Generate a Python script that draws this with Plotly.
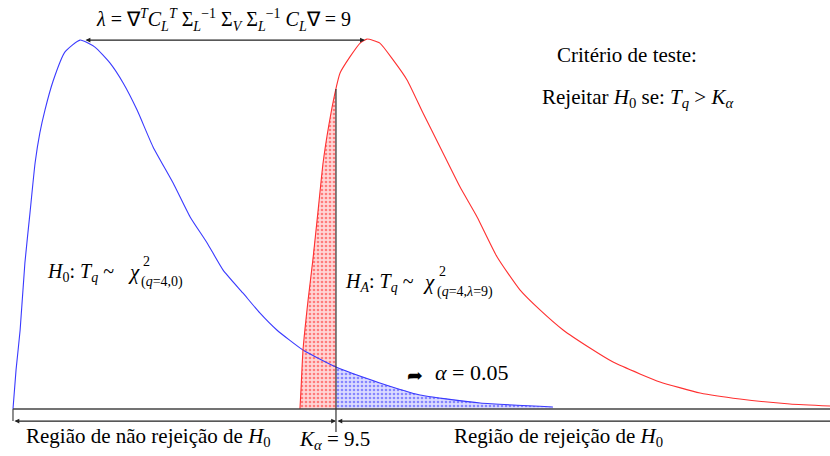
import numpy as np
import plotly.graph_objects as go

# ---- data (T_q on x, density in arbitrary units on y) ----
blue_T = [0.00, 0.09, 0.21, 0.35, 0.50, 0.65, 0.79, 0.94, 1.18, 1.53, 1.97, 2.41, 2.85,
          3.24, 3.65, 4.12, 4.71, 5.21, 5.71, 6.18, 6.76, 7.26, 7.76, 8.53, 9.50,
          10.79, 11.97, 13.74, 15.88]
blue_d = [0.0000, 0.0195, 0.0394, 0.0728, 0.0978, 0.1227, 0.1377, 0.1491, 0.1636, 0.1781,
          0.1840, 0.1805, 0.1726, 0.1626, 0.1491, 0.1307, 0.1127, 0.0958, 0.0828, 0.0693,
          0.0579, 0.0479, 0.0394, 0.0294, 0.0209, 0.0130, 0.0070, 0.0030, 0.0010]

red_T = [8.44, 8.47, 8.53, 8.68, 8.82, 8.97, 9.12, 9.29, 9.47, 9.62, 9.91, 10.21, 10.41,
         10.79, 11.18, 11.59, 12.06, 12.56, 13.15, 13.65, 14.24, 14.91, 15.50, 16.18,
         16.97, 17.65, 18.44, 19.03, 20.21, 21.38, 22.85, 24.03]
red_d = [0.0000, 0.0095, 0.0294, 0.0544, 0.0743, 0.0983, 0.1227, 0.1416, 0.1576, 0.1676,
         0.1756, 0.1825, 0.1845, 0.1825, 0.1741, 0.1641, 0.1476, 0.1307, 0.1107, 0.0958,
         0.0758, 0.0594, 0.0494, 0.0394, 0.0304, 0.0234, 0.0175, 0.0135, 0.0080, 0.0050,
         0.0025, 0.0015]

k_alpha = 9.5
alpha = 0.05
lam = 9

x_range = [-0.382, 24.03]
y_range = [-0.02344, 0.20399]
W, H = 830, 456

bT, bd = np.array(blue_T), np.array(blue_d)
rT, rd = np.array(red_T), np.array(red_d)
red_at_k = float(np.interp(k_alpha, rT, rd))
blue_at_k = float(np.interp(k_alpha, bT, bd))

fig = go.Figure()

# shaded regions
m = rT < k_alpha
fig.add_trace(go.Scatter(x=list(rT[m]) + [k_alpha, k_alpha], y=list(rd[m]) + [red_at_k, 0],
                         mode="lines", line=dict(width=0), fill="toself",
                         fillpattern=dict(shape=".", fgcolor="#ff2020", bgcolor="#ffd6d6",
                                          size=4, solidity=0.35),
                         hoverinfo="skip", showlegend=False))
mb = bT > k_alpha
fig.add_trace(go.Scatter(x=[k_alpha, k_alpha] + list(bT[mb]) + [bT[mb][-1]],
                         y=[0, blue_at_k] + list(bd[mb]) + [0],
                         mode="lines", line=dict(width=0), fill="toself",
                         fillpattern=dict(shape=".", fgcolor="#3030ff", bgcolor="#dcdcff",
                                          size=4, solidity=0.35),
                         hoverinfo="skip", showlegend=False))

# curves
fig.add_trace(go.Scatter(x=blue_T, y=blue_d, mode="lines",
                         line=dict(color="#3a3aff", width=1.1, shape="spline", smoothing=0.5),
                         showlegend=False))
fig.add_trace(go.Scatter(x=red_T, y=red_d, mode="lines",
                         line=dict(color="#ff3030", width=1.1, shape="spline", smoothing=0.5),
                         showlegend=False))

y_low = -0.006
# baseline, lower region line, ticks
fig.add_shape(type="line", x0=0, x1=x_range[1], y0=0, y1=0, line=dict(color="#444", width=1.5))
fig.add_shape(type="line", x0=0, x1=0, y0=0, y1=y_low, line=dict(color="#444", width=1.2))
fig.add_shape(type="line", x0=k_alpha, x1=k_alpha, y0=red_at_k, y1=-0.0115,
              line=dict(color="#333", width=1.2))

arrow_kw = dict(xref="x", yref="y", axref="x", ayref="y", text="", showarrow=True,
                arrowcolor="#222", arrowwidth=1.2, arrowsize=0.8, arrowhead=2,
                startarrowhead=2, startarrowsize=0.8)
# region arrows
fig.add_annotation(x=k_alpha, y=y_low, ax=0, ay=y_low, arrowside="end+start", **arrow_kw)
fig.add_annotation(x=x_range[1], y=y_low, ax=k_alpha, ay=y_low, arrowside="start", **arrow_kw)
# lambda arrow between the two peaks
b_peak = float(bT[np.argmax(bd)]) + 0.12
r_peak = float(rT[np.argmax(rd)]) - 0.06
fig.add_annotation(x=r_peak, y=bd.max(), ax=b_peak, ay=bd.max(), arrowside="end+start", **arrow_kw)

FONT = "Liberation Serif"


def txt(px, py, s, size=20, xanchor="center", color="black", family=FONT):
    fig.add_annotation(x=px / W, y=1 - py / H, xref="paper", yref="paper", text=s,
                       showarrow=False, xanchor=xanchor, yanchor="middle",
                       font=dict(family=family, size=size, color=color))


txt(223, 20, "<i>λ</i> = ∇<sup><i>T</i></sup><i>C</i><sub><i>L</i></sub><sup><i>T</i></sup> "
             "Σ<sub><i>L</i></sub><sup>−1</sup> Σ<sub><i>V</i></sub> Σ<sub><i>L</i></sub><sup>−1</sup> "
             "<i>C</i><sub><i>L</i></sub>∇ = " + str(lam), size=20)
txt(627, 55, "Critério de teste:", size=21)
txt(637, 98, "Rejeitar <i>H</i><sub>0</sub> se: <i>T<sub>q</sub></i> > <i>K<sub>α</sub></i>", size=21)

# H0 label
txt(45, 272, "<i>H</i><sub>0</sub>: <i>T<sub>q</sub></i> ~", size=20, xanchor="left")
txt(126, 272, "<i>χ</i>", size=21, xanchor="left")
txt(141, 261, "2", size=14, xanchor="left")
txt(139, 282, "(<i>q</i>=4,0)", size=14, xanchor="left")

# HA label
txt(343, 282, "<i>H<sub>A</sub></i>: <i>T<sub>q</sub></i> ~", size=20, xanchor="left")
txt(421, 282, "<i>χ</i>", size=21, xanchor="left")
txt(437, 271, "2", size=14, xanchor="left")
txt(435, 292, "(<i>q</i>=4,<i>λ</i>=9)", size=14, xanchor="left")

# alpha
txt(415, 375, "➦", size=19, color="black", family="DejaVu Sans")
txt(433, 372, "<i>α</i> = " + f"{alpha:.2f}", size=22, xanchor="left")

# bottom labels
txt(24, 437, "Região de não rejeição de <i>H</i><sub>0</sub>", size=21, xanchor="left")
txt(297, 440, "<i>K<sub>α</sub></i> = " + str(k_alpha), size=21, xanchor="left")
txt(452, 437, "Região de rejeição de <i>H</i><sub>0</sub>", size=21, xanchor="left")

fig.update_layout(width=W, height=H, margin=dict(l=0, r=0, t=0, b=0),
                  paper_bgcolor="white", plot_bgcolor="white",
                  xaxis=dict(range=x_range, visible=False, fixedrange=True),
                  yaxis=dict(range=y_range, visible=False, fixedrange=True),
                  showlegend=False)

fig.write_html("out.html", config={"displayModeBar": False},
               post_script="document.body.style.margin='0px';")
